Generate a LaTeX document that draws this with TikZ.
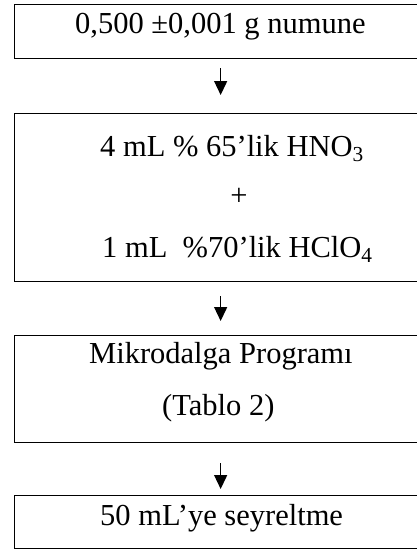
\documentclass[tikz,border=0pt]{standalone}
\usepackage{fontspec}
\setmainfont{Liberation Serif}
\usetikzlibrary{arrows.meta}
\begin{document}
\begin{tikzpicture}[x=1pt,y=-1pt,
  box/.style={draw=black, line width=1.3pt, minimum width=412pt, inner sep=0pt, anchor=north west},
  txt/.style={anchor=base west, inner sep=0pt, font=\fontsize{30.5}{36}\selectfont},
  flow/.style={-{Triangle[length=14pt,width=13pt]}, line width=1.3pt}]
\useasboundingbox (0,0) rectangle (417,552);
\node[box, minimum height=54pt] (b1) at (14,4) {};
\node[box, minimum height=168pt] (b2) at (14,113) {};
\node[box, minimum height=107pt] (b3) at (14,335) {};
\node[box, minimum height=53pt] (b4) at (14,495) {};
\node[txt] (t1) at (75,33) {0,500 ±0,001 g numune};
\node[txt] (t2) at (100,156) {4 mL \% 65’lik HNO\textsubscript{3}};
\node[txt, anchor=base] (t3) at (239,205) {+};
\node[txt] (t4) at (102,257) {1 mL\ \ \%70’lik HClO\textsubscript{4}};
\node[txt] (t5) at (89,363) {Mikrodalga Programı};
\node[txt] (t6) at (162,415) {(Tablo 2)};
\node[txt] (t7) at (100,525) {50 mL’ye seyreltme};
\draw[flow, shorten <=9pt, shorten >=18pt] (b1.south) -- (b2.north);
\draw[flow, shorten <=14pt, shorten >=14pt] (b2.south) -- (b3.north);
\draw[flow, shorten <=20pt, shorten >=6pt] (b3.south) -- (b4.north);
\end{tikzpicture}
\end{document}
